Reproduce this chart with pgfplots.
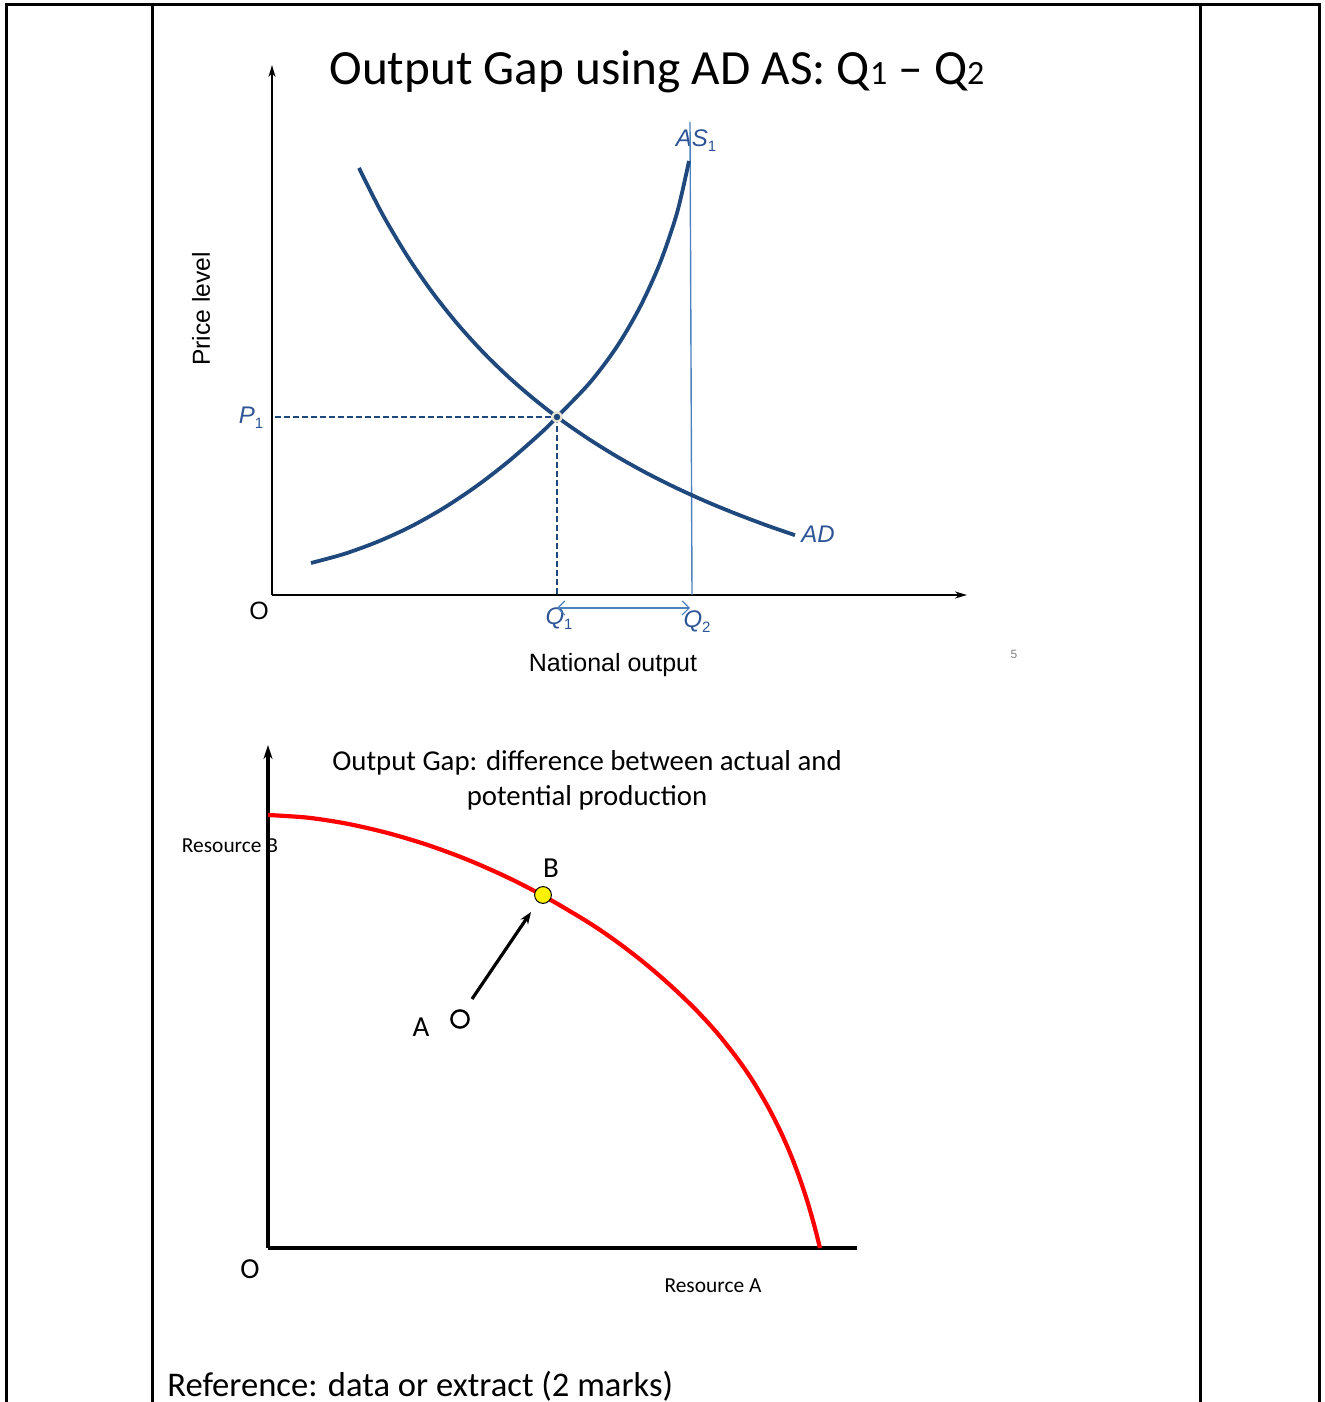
\documentclass[border=0pt]{standalone}
\usepackage{pgfplots}
\pgfplotsset{compat=1.18}
\usepackage{fontspec}
\setmainfont{Carlito}
\newfontfamily\arial{Liberation Sans}
\usetikzlibrary{arrows.meta}
\definecolor{curveblue}{RGB}{31,73,125}
\definecolor{thinblue}{RGB}{79,129,189}
\definecolor{labelblue}{RGB}{44,84,150}
\definecolor{halo}{RGB}{232,228,212}
\newcommand\sub[1]{\raisebox{-2.5pt}{\fontsize{7.5}{8}\selectfont\upshape #1}}

% AS and AD curves (x = output, y = price level; origin of the diagram at 0,0)
\pgfplotstableread{
x y
39 32
72 41
105 53
138 68
171 86.5
204 108.5
237 134
270 163
285 178
318 212.5
345 248.5
368 288
388 332
405 382
417 434
}\astable
\pgfplotstableread{
x y
87 427
110 381.6
135 339.4
160 303.1
185 271.6
210 243.9
235 219.4
260 197.6
285 178
315 157.1
345 138.4
375 121.7
405 106.7
435 93.1
465 80.8
495 69.5
523 59.8
}\adtable
% production possibility frontier
\pgfplotstableread{
x y
0 433
40 430.3
80 424.1
120 414.9
160 402.9
200 388.1
240 370.4
275 352.4
310 332
330 319.4
350 305.4
370 290.2
390 273.6
410 255.6
430 236
450 214
470 188.6
485 166.7
500 141.2
512 117.6
522 95
531 71.6
539 47.7
546 23.5
552 0
}\ppftable

\begin{document}
\begin{tikzpicture}
\begin{scope}[x=0.5pt,y=-0.5pt,shift={(0pt,701pt)}]
\path[use as bounding box] (0,0) rectangle (1325,1402);
\draw[line width=1.5pt,line join=miter] (6,1402) -- (6,5) -- (1319,5) -- (1319,1402);
\draw[line width=1.5pt] (152,5) -- (152,1402);
\draw[line width=1.5pt] (1200,5) -- (1200,1402);
% top diagram texts
\node[font=\fontsize{24.6}{30}\selectfont] at (657,72) {Output Gap using AD AS: Q{\fontsize{17}{20}\selectfont 1} – Q{\fontsize{17}{20}\selectfont 2}};
\node[rotate=90,font=\arial\fontsize{12.3}{14}\selectfont] at (201,309) {Price level};
\node[font=\arial\fontsize{12.5}{14}\selectfont] at (613,665) {National output};
\node[font=\arial\fontsize{12.5}{14}\selectfont] at (259,611) {O};
\node[font=\arial\fontsize{6}{7}\selectfont,text=gray] at (1014,654) {5};
\node[text=labelblue,font=\arial\itshape\fontsize{12}{14}\selectfont] at (251,418) {P\sub{1}};
\node[text=labelblue,font=\arial\itshape\fontsize{12}{14}\selectfont] at (559,619) {Q\sub{1}};
\node[text=labelblue,font=\arial\itshape\fontsize{12}{14}\selectfont] at (697,622) {Q\sub{2}};
\node[text=labelblue,font=\arial\itshape\fontsize{12}{14}\selectfont] at (818,534) {AD};
\node[text=labelblue,font=\arial\itshape\fontsize{12}{14}\selectfont] at (696,141) {AS\sub{1}};
% bottom diagram texts
\node[font=\fontsize{14.4}{17.5}\selectfont,align=center] at (587,780) {Output Gap: difference between actual and\\potential production};
\node[font=\fontsize{10.7}{12}\selectfont] at (230,846) {Resource B};
\node[font=\fontsize{14.5}{16}\selectfont] at (551,868) {B};
\node[font=\fontsize{14.5}{16}\selectfont] at (421,1027) {A};
\node[font=\fontsize{14.5}{16}\selectfont] at (250,1269) {O};
\node[font=\fontsize{10.7}{12}\selectfont] at (713,1286) {Resource A};
\node[anchor=west,inner sep=0pt,font=\fontsize{17.3}{20}\selectfont] at (167,1386) {Reference: data or extract (2 marks)};
\end{scope}

% ---------- AD / AS diagram ----------
\begin{axis}[at={(136pt,403.5pt)},anchor=south west,scale only axis,
  width=347.5pt,height=265pt,xmin=0,xmax=695,ymin=0,ymax=530,
  axis lines=left,ticks=none,clip=false,
  axis line style={line width=1pt,-{Stealth[length=6pt,width=3.5pt]}}]
\addplot[curveblue,line width=0.75pt,dash pattern=on 3pt off 1.5pt] coordinates {(3,178) (285,178)};
\addplot[curveblue,line width=0.75pt,dash pattern=on 3pt off 1.5pt] coordinates {(285,178) (285,0)};
\addplot[thinblue,line width=0.7pt] coordinates {(418,473) (420,0)};
\addplot[curveblue,line width=1.9pt,smooth] table[x=x,y=y] {\astable};
\addplot[curveblue,line width=1.9pt,smooth] table[x=x,y=y] {\adtable};
\addplot[only marks,mark=*,mark size=2.3pt,mark options={fill=curveblue,draw=halo,line width=1.1pt}] coordinates {(285,178)};
\addplot[thinblue,line width=0.6pt,{Straight Barb[length=3.5pt,width=7pt]}-{Straight Barb[length=3.5pt,width=7pt]}] coordinates {(285,-13) (418,-13)};
\end{axis}

% ---------- PPF diagram ----------
\begin{axis}[at={(134pt,77pt)},anchor=south west,scale only axis,
  width=294.5pt,height=251.5pt,xmin=0,xmax=589,ymin=0,ymax=503,
  axis lines=left,ticks=none,clip=false,
  x axis line style={line width=1.8pt,-},
  y axis line style={line width=1.6pt,-{Stealth[length=7pt,width=4.5pt]}}]
\addplot[red,line width=2.1pt,smooth] table[x=x,y=y] {\ppftable};
\addplot[black,line width=1.6pt,-{Stealth[length=6pt,width=4.5pt]}] coordinates {(204,249) (263,336)};
\addplot[only marks,mark=*,mark size=4.2pt,mark options={fill=yellow,draw=black,line width=0.5pt}] coordinates {(275,353)};
\addplot[only marks,mark=o,mark size=4.3pt,mark options={draw=black,line width=1.2pt}] coordinates {(192,229)};
\end{axis}
\end{tikzpicture}
\end{document}
